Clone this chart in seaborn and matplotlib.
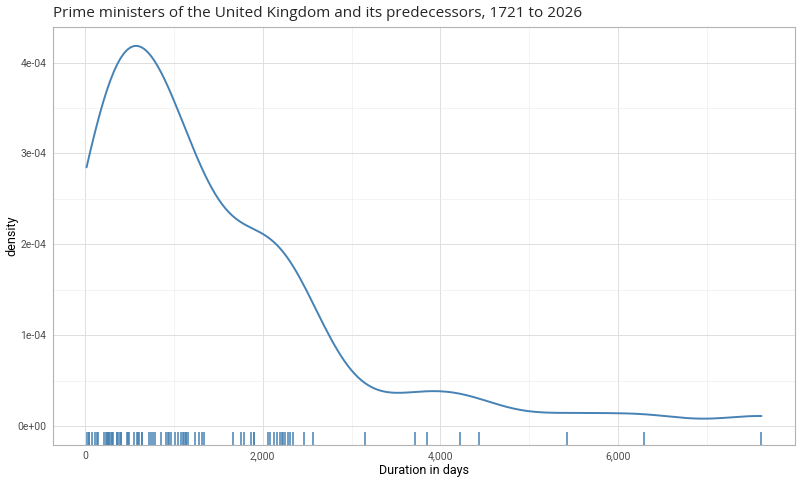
import numpy as np
import pandas as pd
import matplotlib
matplotlib.use("Agg")
import matplotlib.pyplot as plt
from matplotlib.ticker import FuncFormatter, MultipleLocator
import seaborn as sns

# duration in office (days), read from the rug (close values overlap there)
durations = [19, 45, 50, 82, 113, 139, 145, 215, 235, 245,
             255, 265, 275, 285, 300, 310, 320, 357, 365, 383, 406, 410,
             470, 480, 496, 552, 590, 600, 612, 640, 643, 722, 744, 770, 793,
             853, 913, 932, 950, 966, 1018, 1045, 1082, 1100, 1110, 1135,
             1140, 1160, 1240, 1285, 1315, 1342, 1668, 1755, 1785, 1868,
             1897, 1905, 2060, 2086, 2131, 2161, 2190, 2221, 2230, 2255, 2281,
             2311, 2341, 2461, 2567, 3153, 3709, 3844, 4220, 4434, 5419, 6287,
             7610]

title = "Prime ministers of the United Kingdom and its predecessors, 1721 to 2026"
x_label = "Duration in days"
y_label = "density"
x_ticks = [0, 2000, 4000, 6000]
y_ticks = [0, 1e-4, 2e-4, 3e-4, 4e-4]

line_color = "#4682B4"

df = pd.DataFrame({"days": durations})

# R's bw.nrd0 expressed as a factor of the sample sd (scipy style)
x = np.array(durations, dtype=float)
n = len(x)
sd = x.std(ddof=1)
iqr = np.subtract(*np.percentile(x, [75, 25]))
bw_factor = 0.9 * min(sd, iqr / 1.34) / sd * n ** (-0.2)

sns.set_theme(style="white")
plt.rcParams['font.family'] = ['Roboto', 'DejaVu Sans']

fig = plt.figure(figsize=(8, 4.8), dpi=100)
ax = fig.add_axes([0.066, 0.073, 0.928, 0.871])

sns.kdeplot(data=df, x="days", bw_method=bw_factor, cut=0, color=line_color,
            linewidth=1.4, ax=ax)
sns.rugplot(data=df, x="days", height=0.03, color=line_color, linewidth=1.1,
            ax=ax)

lo, hi = min(durations), max(durations)
pad = (hi - lo) * 0.05
ax.set_xlim(lo - pad, hi + pad)
ymax = ax.get_lines()[0].get_ydata().max()
ax.set_ylim(-ymax * 0.05, ymax * 1.05)

ax.set_xticks(x_ticks)
ax.set_yticks(y_ticks)
ax.xaxis.set_minor_locator(MultipleLocator(1000))
ax.yaxis.set_minor_locator(MultipleLocator(0.5e-4))
ax.xaxis.set_major_formatter(FuncFormatter(lambda v, p: f"{int(v):,}"))
ax.yaxis.set_major_formatter(FuncFormatter(lambda v, p: f"{v:.0e}"))

ax.grid(which="major", color="#DEDEDE", linewidth=0.7)
ax.grid(which="minor", color="#EEEEEE", linewidth=0.5)
ax.set_axisbelow(True)
for s in ax.spines.values():
    s.set_color("#B3B3B3")
    s.set_linewidth(0.8)
ax.tick_params(which="major", length=2.5, color="#B3B3B3", labelsize=7.5,
               labelcolor="#4D4D4D", pad=2)
ax.tick_params(which="minor", length=0)

ax.set_xlabel(x_label, fontsize=9, color="black", labelpad=2)
ax.set_ylabel(y_label, fontsize=9, color="black")
ax.yaxis.set_label_coords(-0.047, 0.5)
ax.set_title(title, loc="left", fontsize=11, family=['Open Sans', 'DejaVu Sans'],
             pad=7)

fig.savefig("out.png", dpi=100)
